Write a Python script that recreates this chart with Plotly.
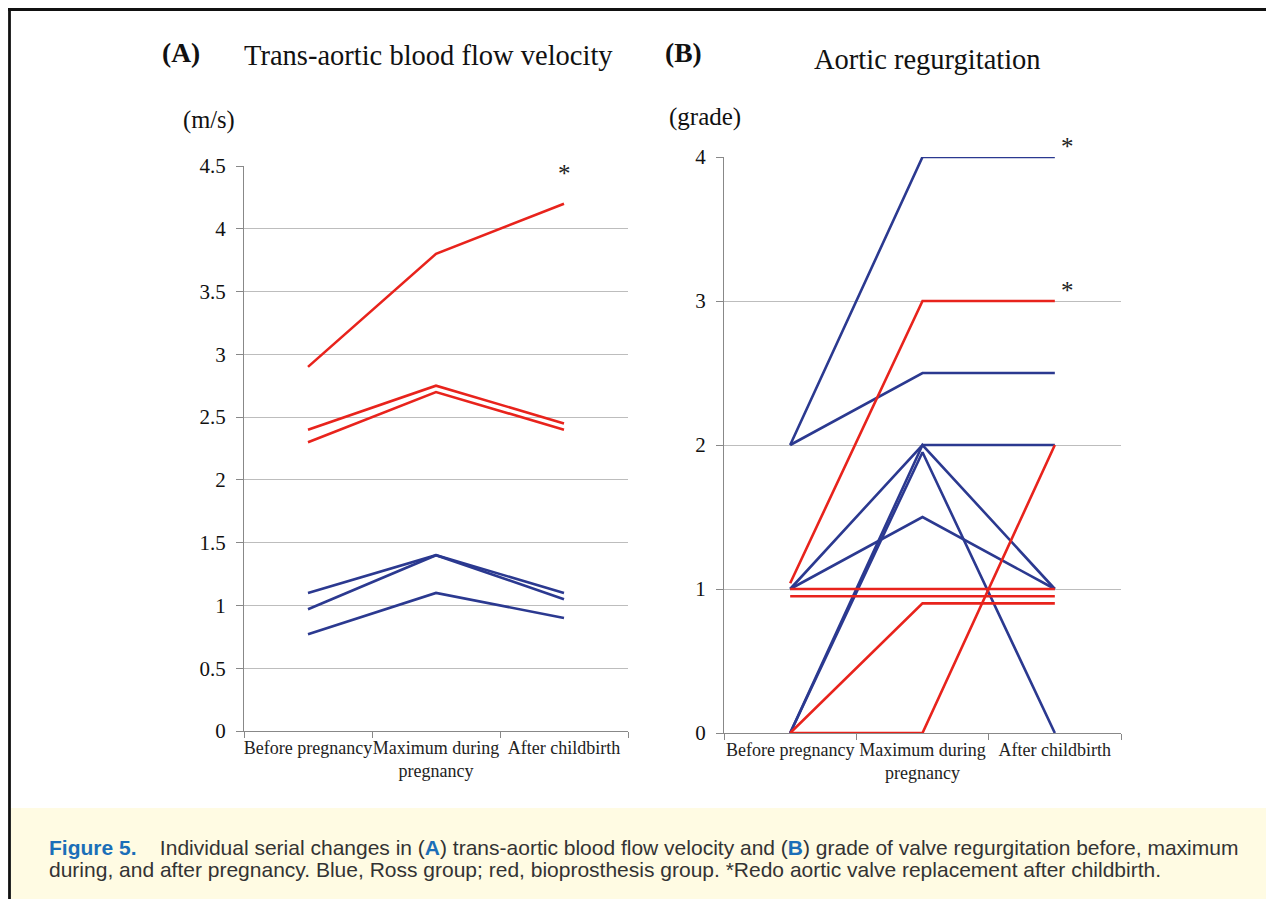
import plotly.graph_objects as go

# ---------------- data ----------------
categories = ["Before pregnancy", "Maximum during<br>pregnancy", "After childbirth"]

# Panel A: trans-aortic blood flow velocity (m/s)
velocity_red = [
    [2.9, 3.8, 4.2],
    [2.4, 2.75, 2.45],
    [2.3, 2.7, 2.4],
]
velocity_blue = [
    [1.1, 1.4, 1.1],
    [0.97, 1.4, 1.05],
    [0.77, 1.1, 0.9],
]
velocity_ticks = [0, 0.5, 1, 1.5, 2, 2.5, 3, 3.5, 4, 4.5]
velocity_star = 4.2

# Panel B: aortic regurgitation grade
grade_blue = [
    [2, 4, 4],
    [2, 2.5, 2.5],
    [1, 2, 2],
    [1, 1.5, 1],
    [0, 2, 1],
    [0, 1.95, 0],
]
grade_red = [
    [1.04, 3, 3],
    [1, 1, 1],
    [0.95, 0.95, 0.95],
    [0, 0.9, 0.9],
    [0, 0, 2],
]
grade_ticks = [0, 1, 2, 3, 4]
grade_stars = [4, 3]

# ---------------- style ----------------
BLUE = "#2B3990"
RED = "#E8231C"
GRID = "#BDBDBD"
SERIF = "Liberation Serif, Times New Roman, serif"
OFF = 8                      # page body margin
W, H = 1274 - OFF, 899 - OFF

fig = go.Figure()

for s in velocity_red:
    fig.add_trace(go.Scatter(x=categories, y=s, mode="lines", line=dict(color=RED, width=2.6),
                             xaxis="x", yaxis="y", showlegend=False, hoverinfo="skip"))
for s in velocity_blue:
    fig.add_trace(go.Scatter(x=categories, y=s, mode="lines", line=dict(color=BLUE, width=2.6),
                             xaxis="x", yaxis="y", showlegend=False, hoverinfo="skip"))
for s in grade_blue:
    fig.add_trace(go.Scatter(x=categories, y=s, mode="lines", line=dict(color=BLUE, width=2.6),
                             xaxis="x2", yaxis="y2", showlegend=False, hoverinfo="skip"))
for s in grade_red:
    fig.add_trace(go.Scatter(x=categories, y=s, mode="lines", line=dict(color=RED, width=2.6),
                             xaxis="x2", yaxis="y2", showlegend=False, hoverinfo="skip"))

def px_x(p):
    return (p - OFF) / W

def px_y(p):
    return 1 - (p - OFF) / H

xcommon = dict(type="category", tickson="boundaries", ticks="outside", ticklen=6,
               tickcolor="#888", showline=True, linecolor="#888", linewidth=1.3,
               showgrid=False, zeroline=False, fixedrange=True, automargin=False,
               range=[-0.5, 2.5], tickangle=0,
               tickfont=dict(family=SERIF, size=18, color="#222"))
ycommon = dict(ticks="outside", ticklen=7, tickcolor="#888", showline=True, linecolor="#888",
               linewidth=1.3, showgrid=True, gridcolor=GRID, gridwidth=1.2, zeroline=False,
               fixedrange=True, automargin=False, ticklabelstandoff=6,
               tickfont=dict(family=SERIF, size=21, color="#111"))

fig.update_layout(
    width=W, height=H, autosize=False,
    margin=dict(l=0, r=0, t=0, b=0, pad=0),
    paper_bgcolor="white", plot_bgcolor="white",
    xaxis=dict(domain=[px_x(244), px_x(628)], anchor="y", **xcommon),
    yaxis=dict(domain=[px_y(731), px_y(166)], anchor="x", range=[0, 4.5],
               tickvals=velocity_ticks, ticktext=[f"{v:g}" for v in velocity_ticks], **ycommon),
    xaxis2=dict(domain=[px_x(724), px_x(1121)], anchor="y2", **xcommon),
    yaxis2=dict(domain=[px_y(733), px_y(157)], anchor="x2", range=[0, 4],
                tickvals=grade_ticks, ticktext=[str(v) for v in grade_ticks], **ycommon),
)

shapes = [
    # caption background
    dict(type="rect", xref="paper", yref="paper", x0=px_x(11), x1=1, y0=0, y1=px_y(808),
         fillcolor="#FFFBE3", line=dict(width=0), layer="below"),
    # border lines (as close to the page corner as the figure allows)
    dict(type="line", xref="paper", yref="paper", x0=px_x(8), x1=1, y0=px_y(9.5), y1=px_y(9.5),
         line=dict(color="#111", width=2.8)),
    dict(type="line", xref="paper", yref="paper", x0=px_x(9.5), x1=px_x(9.5), y0=0, y1=px_y(8),
         line=dict(color="#111", width=2.8)),
]
fig.update_layout(shapes=shapes)

ann = []
def text(x, y, s, size, bold=False, family=SERIF, color="#111", xanchor="left"):
    ann.append(dict(xref="paper", yref="paper", x=px_x(x), y=px_y(y), text=(f"<b>{s}</b>" if bold else s),
                    showarrow=False, xanchor=xanchor, yanchor="middle",
                    font=dict(family=family, size=size, color=color)))

text(160, 53, "(A)", 27.5, bold=True)
text(428, 56, "Trans-aortic blood flow velocity", 28.5, xanchor="center")
text(181, 120, "(m/s)", 24.5)
text(663, 53, "(B)", 27.5, bold=True)
text(927, 60, "Aortic regurgitation", 28.5, xanchor="center")
text(667, 117, "(grade)", 25)

# asterisks (redo valve replacement) attached to data points
ann.append(dict(xref="x", yref="y", x=categories[2], y=velocity_star, text="*", showarrow=False,
                yshift=30, font=dict(family=SERIF, size=25, color="#222")))
for g in grade_stars:
    ann.append(dict(xref="x2", yref="y2", x=categories[2], y=g, text="*", showarrow=False,
                    xshift=13, yshift=11, font=dict(family=SERIF, size=25, color="#222")))

CAP = "Liberation Sans, Arial, sans-serif"
ann.append(dict(xref="paper", yref="paper", x=px_x(47), y=px_y(847), xanchor="left", yanchor="middle",
                showarrow=False, align="left",
                text=("<span style='color:#1B6FB8'><b>Figure 5.</b></span>&nbsp;&nbsp;&nbsp; "
                      "Individual serial changes in (<span style='color:#1B6FB8'><b>A</b></span>) trans-aortic blood flow velocity "
                      "and (<span style='color:#1B6FB8'><b>B</b></span>) grade of valve regurgitation before, maximum"),
                font=dict(family=CAP, size=21, color="#333")))
ann.append(dict(xref="paper", yref="paper", x=px_x(47), y=px_y(869), xanchor="left", yanchor="middle",
                showarrow=False, align="left",
                text="during, and after pregnancy. Blue, Ross group; red, bioprosthesis group. *Redo aortic valve replacement after childbirth.",
                font=dict(family=CAP, size=21, color="#333")))

fig.update_layout(annotations=ann)

fig.write_html("out.html")
